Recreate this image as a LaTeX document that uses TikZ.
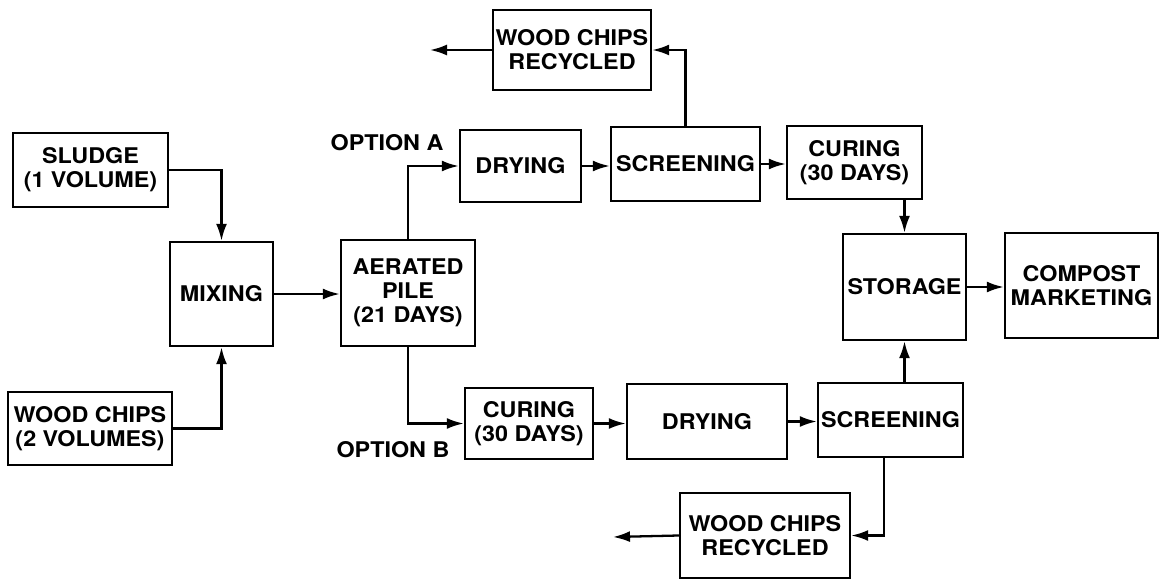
\documentclass[tikz,border=0pt]{standalone}
\usepackage{fontspec}
\setmainfont{TeX Gyre Heros}[FakeStretch=1.08]
\usetikzlibrary{arrows.meta}
\begin{document}
\begin{tikzpicture}[x=0.02cm,y=-0.02cm,
  box/.style={draw, line width=1.4pt, inner sep=0pt, align=center,
    font=\fontsize{12.3}{13.8}\selectfont\bfseries},
  lbl/.style={font=\fontsize{12.3}{13.8}\selectfont\bfseries, inner sep=0pt},
  arr/.style={line width=1.3pt, -{Latex[length=0.34cm,width=0.22cm]}}]
\useasboundingbox (0,0) rectangle (1160,581);
\node[box, minimum width=3.10cm, minimum height=1.48cm] (sludge) at (90.5,170) {SLUDGE\\(1 VOLUME)};
\node[box, minimum width=3.28cm, minimum height=1.46cm] (wc2) at (90,428.5) {WOOD CHIPS\\(2 VOLUMES)};
\node[box, minimum width=2.06cm, minimum height=2.08cm] (mixing) at (221.5,294) {MIXING};
\node[box, minimum width=2.68cm, minimum height=2.12cm] (aerated) at (408,293) {AERATED\\PILE\\(21 DAYS)};
\node[box, minimum width=2.42cm, minimum height=1.44cm] (dryA) at (520.5,166) {DRYING};
\node[box, minimum width=2.98cm, minimum height=1.48cm] (screenA) at (685.5,164) {SCREENING};
\node[box, minimum width=2.70cm, minimum height=1.46cm] (curingA) at (854.5,162.5) {CURING\\(30 DAYS)};
\node[box, minimum width=3.16cm, minimum height=1.60cm] (wcA) at (572,50) {WOOD CHIPS\\RECYCLED};
\node[box, minimum width=2.46cm, minimum height=2.12cm] (storage) at (904.5,287) {STORAGE};
\node[box, minimum width=3.06cm, minimum height=2.10cm] (compost) at (1081.5,285.5) {COMPOST\\MARKETING};
\node[box, minimum width=2.56cm, minimum height=1.42cm] (curingB) at (529,423.5) {CURING\\(30 DAYS)};
\node[box, minimum width=3.20cm, minimum height=1.50cm] (dryB) at (707,421.5) {DRYING};
\node[box, minimum width=2.90cm, minimum height=1.48cm] (screenB) at (890.5,420) {SCREENING};
\node[box, minimum width=3.40cm, minimum height=1.70cm] (wcB) at (765,535.5) {WOOD CHIPS\\RECYCLED};
\node[lbl] (optA) at (387,143) {OPTION A};
\node[lbl] (optB) at (393,450) {OPTION B};
\coordinate (outA) at (430,50);
\coordinate (outB) at (613,537);

\draw[arr] (sludge.east) -| (mixing.north);
\draw[arr] (wc2.east) -| (mixing.south);
\draw[arr] (mixing.east) -- (mixing.east -| aerated.west);
\draw[arr] (aerated.north) |- (dryA.west);
\draw[arr] (aerated.south) |- (curingB.west);
\draw[arr] (dryA.east) -- (dryA.east -| screenA.west);
\draw[arr] (screenA.east) -- (screenA.east -| curingA.west);
\draw[arr] (screenA.north) |- (wcA.east);
\draw[arr] (wcA.west) -- (outA);
\draw[arr] (storage.north |- curingA.south) -- (storage.north);
\draw[arr] (storage.south |- screenB.north) -- (storage.south);
\draw[arr] (storage.east) -- (storage.east -| compost.west);
\draw[arr] (curingB.east) -- (curingB.east -| dryB.west);
\draw[arr] (dryB.east) -- (dryB.east -| screenB.west);
\draw[arr] ([xshift=-0.13cm]screenB.south) |- (wcB.east);
\draw[arr] (wcB.west) -- (outB);
\end{tikzpicture}
\end{document}
